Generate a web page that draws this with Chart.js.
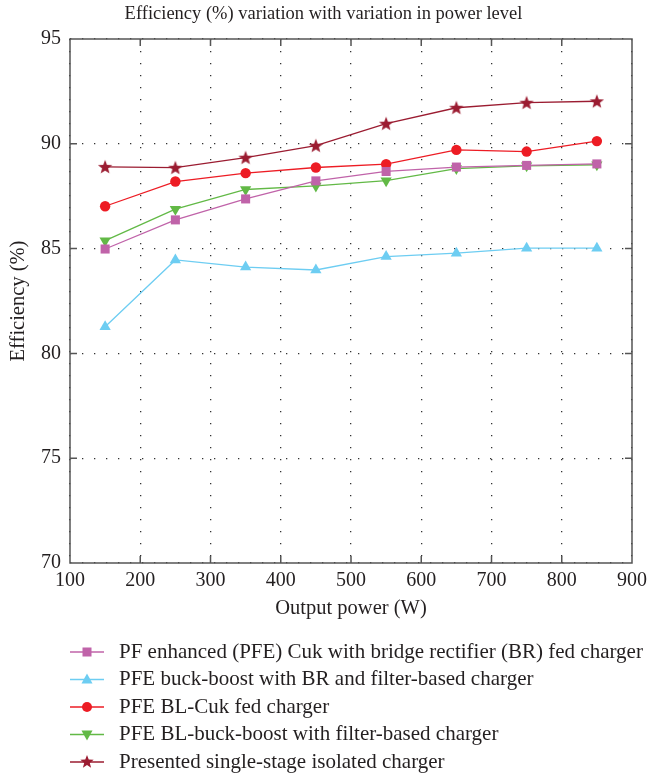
<!DOCTYPE html>
<html>
<head>
<meta charset="utf-8">
<script src="https://cdn.jsdelivr.net/npm/chart.js@4.4.1/dist/chart.umd.min.js"></script>
<style>
  html, body { margin: 0; padding: 0; background: #fff; }
</style>
</head>
<body>
<canvas id="grafico" width="647" height="777"></canvas>
<script>
// Dados
const potencias = [150, 250, 350, 450, 550, 650, 750, 850];
const cukBR = [84.98, 86.37, 87.37, 88.23, 88.68, 88.89, 88.97, 89.04];
const buckBoostBR = [81.27, 84.46, 84.12, 83.98, 84.62, 84.78, 85.02, 85.02];
const blCuk = [87.02, 88.2, 88.6, 88.87, 89.03, 89.71, 89.63, 90.13];
const blBuckBoost = [85.38, 86.88, 87.82, 87.99, 88.24, 88.82, 88.95, 89.0];
const proposto = [88.9, 88.86, 89.34, 89.91, 90.96, 91.72, 91.96, 92.03];

const ticksX = [100, 200, 300, 400, 500, 600, 700, 800, 900];
const ticksY = [70, 75, 80, 85, 90, 95];

const nomes = [
    'PF enhanced (PFE) Cuk with bridge rectifier (BR) fed charger',
    'PFE buck-boost with BR and filter-based charger',
    'PFE BL-Cuk fed charger',
    'PFE BL-buck-boost with filter-based charger',
    'Presented single-stage isolated charger'
];

const fonte = '"Liberation Serif", "DejaVu Serif", serif';
const corTexto = '#231f20';

// Estrela de 5 pontas desenhada num canvas (o "star" do Chart.js não é preenchido)
function desenharEstrela(ctx, x, y, r, cor) {
    ctx.beginPath();
    for (let i = 0; i < 10; i++) {
        const raio = i % 2 === 0 ? r : r * 0.42;
        const ang = -Math.PI / 2 + i * Math.PI / 5;
        const px = x + raio * Math.cos(ang);
        const py = y + raio * Math.sin(ang);
        if (i === 0) ctx.moveTo(px, py); else ctx.lineTo(px, py);
    }
    ctx.closePath();
    ctx.fillStyle = cor;
    ctx.fill();
}

function criarEstrela(cor) {
    const c = document.createElement('canvas');
    c.width = 16;
    c.height = 16;
    desenharEstrela(c.getContext('2d'), 8, 8.5, 7.5, cor);
    return c;
}

function desenharMarcador(ctx, tipo, x, y, cor) {
    ctx.fillStyle = cor;
    ctx.beginPath();
    if (tipo === 'rect') {
        ctx.fillRect(x - 4.5, y - 4.5, 9, 9);
        return;
    } else if (tipo === 'circle') {
        ctx.arc(x, y, 5, 0, Math.PI * 2);
    } else if (tipo === 'triangle') {
        ctx.moveTo(x, y - 6);
        ctx.lineTo(x + 5.5, y + 4);
        ctx.lineTo(x - 5.5, y + 4);
    } else if (tipo === 'triangleDown') {
        ctx.moveTo(x, y + 6);
        ctx.lineTo(x + 5.5, y - 4);
        ctx.lineTo(x - 5.5, y - 4);
    } else if (tipo === 'star') {
        desenharEstrela(ctx, x, y, 7, cor);
        return;
    }
    ctx.closePath();
    ctx.fill();
}

const cores = ['#c063a9', '#6dcdf2', '#ed1c24', '#62b946', '#9b1c31'];
const marcadores = ['rect', 'triangle', 'circle', 'triangleDown', 'star'];

// Moldura, ticks internos e legenda
const extras = {
    id: 'extras',
    afterDraw(chart) {
        const ctx = chart.ctx;
        const area = chart.chartArea;
        const sx = chart.scales.x;
        const sy = chart.scales.y;
        ctx.save();
        ctx.strokeStyle = '#555';
        ctx.lineWidth = 1.5;
        ctx.beginPath();
        ticksX.slice(1, -1).forEach(v => {
            const px = sx.getPixelForValue(v);
            ctx.moveTo(px, area.top);
            ctx.lineTo(px, area.top + 7);
            ctx.moveTo(px, area.bottom);
            ctx.lineTo(px, area.bottom - 7);
        });
        ticksY.slice(1, -1).forEach(v => {
            const py = sy.getPixelForValue(v);
            ctx.moveTo(area.left, py);
            ctx.lineTo(area.left + 7, py);
            ctx.moveTo(area.right, py);
            ctx.lineTo(area.right - 7, py);
        });
        ctx.stroke();
        ctx.strokeRect(area.left, area.top, area.right - area.left, area.bottom - area.top);

        // legenda
        ctx.font = '21px ' + fonte;
        ctx.textBaseline = 'middle';
        ctx.textAlign = 'left';
        chart.data.datasets.forEach((ds, i) => {
            const y = 652 + i * 27.5;
            ctx.strokeStyle = ds.borderColor;
            ctx.lineWidth = 1.3;
            ctx.beginPath();
            ctx.moveTo(70, y);
            ctx.lineTo(104, y);
            ctx.stroke();
            desenharMarcador(ctx, marcadores[i], 87, y, ds.backgroundColor);
            ctx.fillStyle = corTexto;
            ctx.fillText(ds.label, 119, y);
        });
        ctx.restore();
    }
};

const series = [cukBR, buckBoostBR, blCuk, blBuckBoost, proposto];
const estilos = [
    { pointStyle: 'rect', pointRadius: 6.4, pointRotation: 0 },
    { pointStyle: 'triangle', pointRadius: 6.5, pointRotation: 0 },
    { pointStyle: 'circle', pointRadius: 5.2, pointRotation: 0 },
    { pointStyle: 'triangle', pointRadius: 6.5, pointRotation: 180 },
    { pointStyle: criarEstrela(cores[4]), pointRadius: 8, pointRotation: 0 }
];

const ctx = document.getElementById('grafico').getContext('2d');
new Chart(ctx, {
    type: 'line',
    data: {
        datasets: series.map((s, i) => ({
            label: nomes[i],
            data: s.map((v, j) => ({ x: potencias[j], y: v })),
            borderColor: cores[i],
            backgroundColor: cores[i],
            borderWidth: 1.3,
            pointBorderWidth: 0,
            pointStyle: estilos[i].pointStyle,
            pointRadius: estilos[i].pointRadius,
            pointRotation: estilos[i].pointRotation,
            tension: 0,
            fill: false
        }))
    },
    options: {
        responsive: false,
        animation: false,
        devicePixelRatio: 1,
        layout: { padding: { left: 0, right: 0, top: 0, bottom: 152 } },
        plugins: {
            legend: { display: false },
            tooltip: { enabled: false },
            title: {
                display: true,
                text: 'Efficiency (%) variation with variation in power level',
                color: corTexto,
                font: { family: fonte, size: 18.5, weight: 'normal' },
                padding: { top: 3, bottom: 13.8 }
            }
        },
        scales: {
            x: {
                type: 'linear',
                min: 100,
                max: 900,
                afterBuildTicks: s => { s.ticks = ticksX.map(v => ({ value: v })); },
                afterFit: s => { s.height = 62; s.paddingRight = 15; },
                grid: { color: '#333', lineWidth: 1.3, drawTicks: false },
                border: { display: false, dash: [1.3, 10.7] },
                ticks: { color: corTexto, padding: 6, font: { family: fonte, size: 20 } },
                title: {
                    display: true,
                    text: 'Output power (W)',
                    color: corTexto,
                    font: { family: fonte, size: 20.5 },
                    padding: { top: 0, bottom: 4 }
                }
            },
            y: {
                min: 70,
                max: 95,
                afterBuildTicks: s => { s.ticks = ticksY.map(v => ({ value: v })); },
                afterFit: s => { s.width = 70; },
                grid: { color: '#333', lineWidth: 1.3, drawTicks: false },
                border: { display: false, dash: [1.3, 10.7] },
                ticks: { color: corTexto, padding: 9, font: { family: fonte, size: 20 } },
                title: {
                    display: true,
                    text: 'Efficiency (%)',
                    color: corTexto,
                    font: { family: fonte, size: 20.5 },
                    padding: { top: 6, bottom: 0 }
                }
            }
        }
    },
    plugins: [extras]
});
</script>
</body>
</html>
